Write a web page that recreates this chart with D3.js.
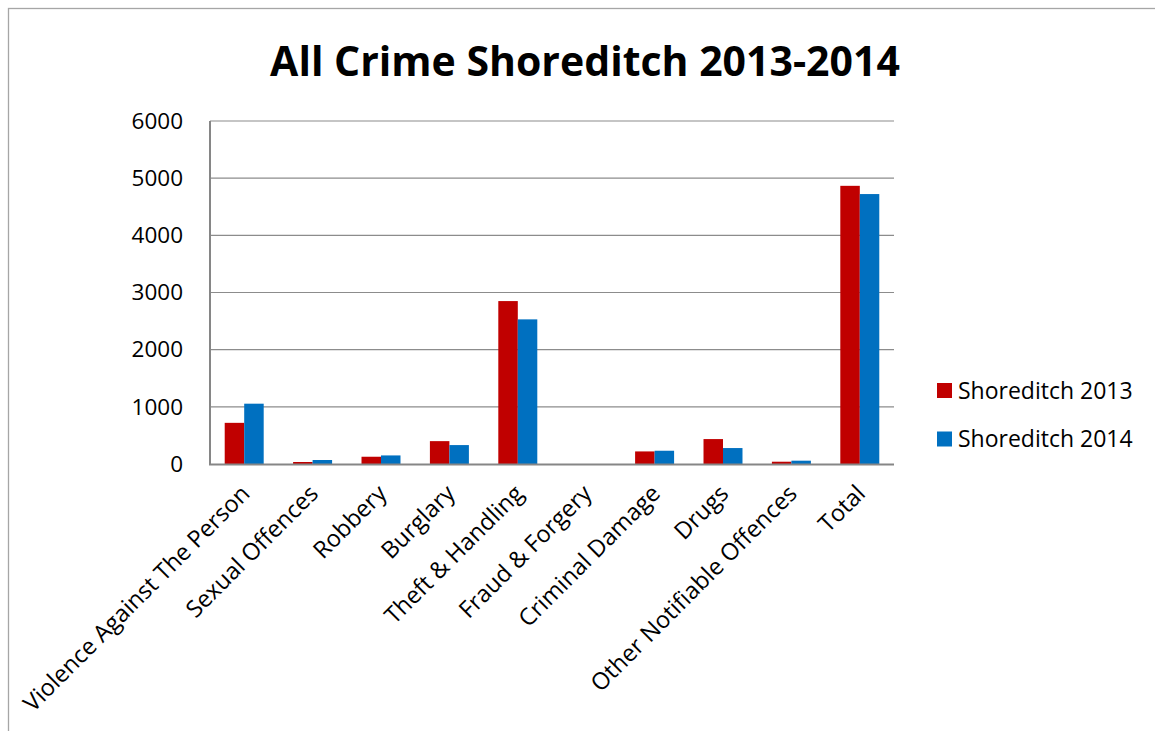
<!DOCTYPE html>
<html>
<head>
<meta charset="utf-8">
<script src="https://cdn.jsdelivr.net/npm/d3@7"></script>
<style>
  html, body { margin: 0; padding: 0; background: #fff; }
  svg { display: block; }
  text { font-family: "Open Sans", "Noto Sans", sans-serif; fill: #000; }
</style>
</head>
<body>
<svg id="chart" width="1155" height="731"></svg>
<script>
// Offence categories and yearly counts
const categories = [
  "Violence Against The Person", "Sexual Offences", "Robbery", "Burglary",
  "Theft & Handling", "Fraud & Forgery", "Criminal Damage", "Drugs",
  "Other Notifiable Offences", "Total"
];
const seriesNames = ["Shoreditch 2013", "Shoreditch 2014"];
const values2013 = [720, 35, 127, 400, 2850, 0, 220, 436, 40, 4866];
const values2014 = [1055, 70, 150, 331, 2530, 0, 232, 279, 58, 4722];
const yTicks = [0, 1000, 2000, 3000, 4000, 5000, 6000];
const titleText = "All Crime Shoreditch 2013-2014";

const colors = ["#C00000", "#0070C0"];
const svg = d3.select("#chart");

// chart frame
svg.append("rect")
  .attr("x", 8.5).attr("y", 8.5)
  .attr("width", 1200).attr("height", 800)
  .attr("fill", "none").attr("stroke", "#A6A6A6").attr("stroke-width", 1.3);

const plot = { left: 210, right: 894, top: 121, bottom: 464 };

const x = d3.scaleBand()
  .domain(categories)
  .range([plot.left, plot.right])
  .paddingInner(0.43)
  .paddingOuter(0.215);

const xs = d3.scaleBand()
  .domain(seriesNames)
  .range([0, x.bandwidth()]);

const y = d3.scaleLinear()
  .domain([0, 6000])
  .range([plot.bottom, plot.top]);

// gridlines
svg.append("g")
  .selectAll("line")
  .data(yTicks.filter(d => d > 0))
  .join("line")
  .attr("x1", plot.left).attr("x2", plot.right)
  .attr("y1", d => y(d)).attr("y2", d => y(d))
  .attr("stroke", "#8C8C8C").attr("stroke-width", 1.2);

// y axis labels
const yAxis = d3.axisLeft(y).tickValues(yTicks).tickFormat(d3.format("d"))
  .tickSize(0).tickPadding(27);
const gy = svg.append("g")
  .attr("transform", `translate(${plot.left},0)`)
  .call(yAxis);
gy.select(".domain").remove();
gy.selectAll("text")
  .style("font-family", "'Open Sans', sans-serif")
  .style("font-size", "22.5px")
  .attr("fill", "#000");

// bars
const rows = categories.map((c, i) => ({ cat: c, vals: [values2013[i], values2014[i]] }));
const groups = svg.append("g")
  .selectAll("g")
  .data(rows)
  .join("g")
  .attr("transform", d => `translate(${x(d.cat)},0)`);
groups.selectAll("rect")
  .data(d => d.vals.map((v, k) => ({ v, k })))
  .join("rect")
  .attr("x", d => xs(seriesNames[d.k]))
  .attr("width", xs.bandwidth())
  .attr("y", d => y(d.v))
  .attr("height", d => y(0) - y(d.v))
  .attr("fill", d => colors[d.k]);

// axis lines
svg.append("line")
  .attr("x1", plot.left).attr("x2", plot.left)
  .attr("y1", plot.top).attr("y2", plot.bottom + 1)
  .attr("stroke", "#868686").attr("stroke-width", 2);
svg.append("line")
  .attr("x1", plot.left - 1).attr("x2", plot.right)
  .attr("y1", plot.bottom + 0.5).attr("y2", plot.bottom + 0.5)
  .attr("stroke", "#868686").attr("stroke-width", 2);

// rotated category labels
const xAxis = d3.axisBottom(x).tickSize(0).tickPadding(0);
const gx = svg.append("g")
  .attr("transform", `translate(0,${plot.bottom})`)
  .call(xAxis);
gx.select(".domain").remove();
gx.selectAll(".tick text")
  .style("font-family", "'Open Sans', sans-serif")
  .style("font-size", "23.5px")
  .attr("fill", "#000")
  .attr("text-anchor", "end")
  .attr("dy", null)
  .attr("y", 0)
  .attr("transform", "translate(7,31) rotate(-45)");

// title
svg.append("text")
  .attr("x", 585).attr("y", 76)
  .attr("text-anchor", "middle")
  .style("font-size", "41px")
  .style("font-weight", "bold")
  .text(titleText);

// legend
const legend = svg.append("g")
  .selectAll("g")
  .data(seriesNames)
  .join("g")
  .attr("transform", (d, i) => `translate(937,${383 + i * 48.5})`);
legend.append("rect")
  .attr("width", 15).attr("height", 15)
  .attr("fill", (d, i) => colors[i]);
legend.append("text")
  .attr("x", 21).attr("y", 7.5)
  .attr("dy", "0.35em")
  .style("font-size", "23px")
  .text(d => d);
</script>
</body>
</html>
